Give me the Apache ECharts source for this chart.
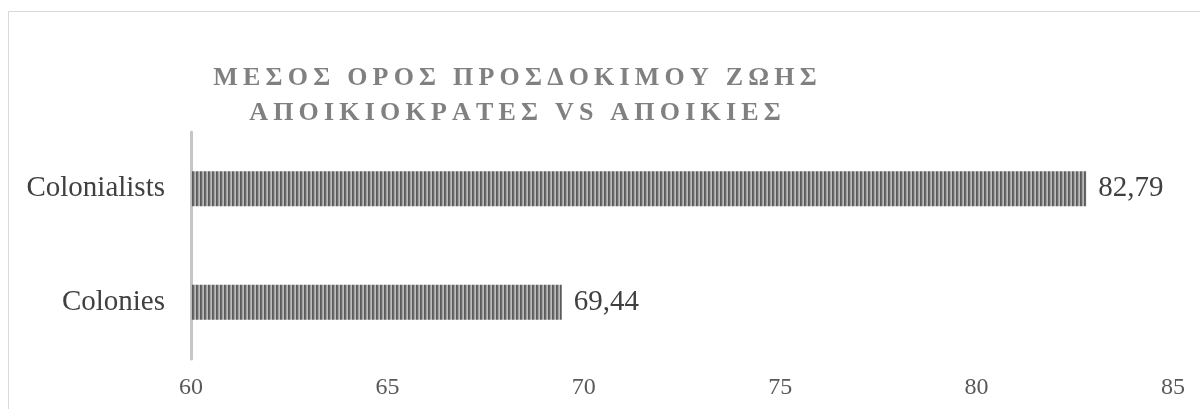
<!DOCTYPE html>
<html>
<head>
<meta charset="utf-8">
<script src="https://cdn.jsdelivr.net/npm/echarts@6/dist/echarts.min.js"></script>
<style>
html,body{margin:0;padding:0;background:#fff;}
#chart{width:1200px;height:409px;}
</style>
</head>
<body>
<div id="chart"></div>
<script>
// ---- data ----
const categories = ['Colonies', 'Colonialists'];
const values = [69.44, 82.79];
const xTicks = [60, 65, 70, 75, 80, 85];
const titleLines = ['ΜΕΣΟΣ ΟΡΟΣ ΠΡΟΣΔΟΚΙΜΟΥ ΖΩΗΣ', 'ΑΠΟΙΚΙΟΚΡΑΤΕΣ VS ΑΠΟΙΚΙΕΣ'];

// spread letters with thin spaces to imitate character spacing
function spread(s) {
  return s.split('').join('\u2009');
}

// striped pattern for bars
function makePattern() {
  const c = document.createElement('canvas');
  c.width = 4; c.height = 1;
  const ctx = c.getContext('2d');
  const cols = ['#5a5a5a', '#6a6a6a', '#a2a2a2', '#bcbcbc'];
  cols.forEach((col, i) => { ctx.fillStyle = col; ctx.fillRect(i, 0, 1, 1); });
  return c;
}

const chart = echarts.init(document.getElementById('chart'), null, {renderer: 'canvas'});
const serif = '"Liberation Serif", "Times New Roman", serif';

chart.setOption({
  animation: false,
  backgroundColor: '#ffffff',
  title: {
    text: titleLines.map(spread).join('\n'),
    left: 510,
    top: 56,
    textAlign: 'center',
    textStyle: {
      fontFamily: serif,
      fontWeight: 'bold',
      fontSize: 26,
      lineHeight: 35,
      color: '#808080'
    }
  },
  graphic: [{
    type: 'rect',
    shape: {x: 8.5, y: 11.5, width: 1200, height: 420},
    style: {fill: 'none', stroke: '#d9d9d9', lineWidth: 1},
    silent: true
  }],
  grid: {left: 191, right: 27, top: 132, bottom: 50, containLabel: false},
  xAxis: {
    type: 'value',
    min: xTicks[0],
    max: xTicks[xTicks.length - 1],
    interval: xTicks[1] - xTicks[0],
    axisLine: {show: false},
    axisTick: {show: false},
    splitLine: {show: false},
    axisLabel: {
      margin: 17,
      fontFamily: serif,
      fontSize: 24,
      color: '#595959'
    }
  },
  yAxis: {
    type: 'category',
    data: categories,
    axisLine: {show: true, lineStyle: {color: '#c6c6c6', width: 3}},
    axisTick: {show: false},
    axisLabel: {
      margin: 26,
      fontFamily: serif,
      fontSize: 29,
      color: '#404040'
    }
  },
  series: [{
    type: 'bar',
    data: values,
    barWidth: 35,
    itemStyle: {
      color: {image: makePattern(), repeat: 'repeat'}
    },
    label: {
      show: true,
      position: 'right',
      distance: 12,
      fontFamily: serif,
      fontSize: 29,
      color: '#404040',
      formatter: p => p.value.toFixed(2).replace('.', ',')
    }
  }]
});
</script>
</body>
</html>
